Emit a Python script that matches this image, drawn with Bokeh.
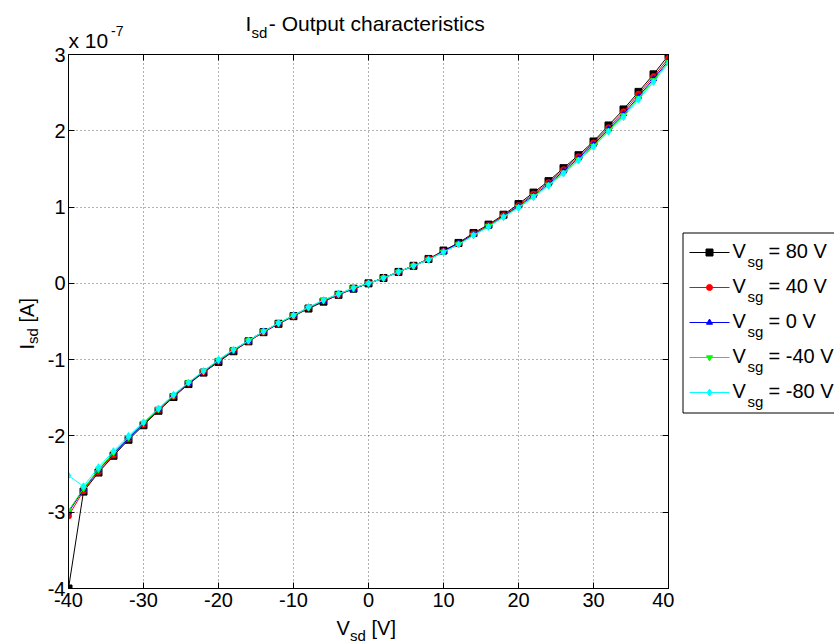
import numpy as np
from bokeh.plotting import figure
from bokeh.models import Range1d, LinearAxis, FixedTicker, ColumnDataSource
from bokeh.layouts import row, column
from bokeh.embed import file_html
from bokeh.resources import INLINE
from bokeh.core.properties import value

# ---------------- data (I_sd in units of 1e-7 A) ----------------
vsd = list(range(-40, 41, 2))
vsg_values = [80, 40, 0, -40, -80]

isd_vsg80 = [-4.00, -2.73, -2.48, -2.26, -2.05, -1.86, -1.67, -1.49, -1.32, -1.17,
             -1.03, -0.89, -0.76, -0.64, -0.53, -0.43, -0.33, -0.24, -0.15, -0.07,
             0.00, 0.07, 0.15, 0.23, 0.32, 0.43, 0.53, 0.66, 0.77, 0.90,
             1.04, 1.19, 1.34, 1.51, 1.68, 1.86, 2.07, 2.28, 2.51, 2.74, 2.99]
isd_vsg40 = [-3.05, -2.72, -2.47, -2.25, -2.04, -1.85, -1.66, -1.48, -1.31, -1.16,
             -1.02, -0.88, -0.76, -0.64, -0.53, -0.43, -0.32, -0.23, -0.15, -0.07,
             0.00, 0.07, 0.15, 0.23, 0.32, 0.42, 0.52, 0.65, 0.76, 0.89,
             1.02, 1.17, 1.32, 1.49, 1.66, 1.84, 2.04, 2.25, 2.48, 2.71, 2.95]
isd_vsg0 = [-3.00, -2.70, -2.45, -2.23, -2.03, -1.84, -1.65, -1.47, -1.31, -1.16,
            -1.01, -0.88, -0.75, -0.63, -0.53, -0.42, -0.32, -0.23, -0.14, -0.07,
            0.00, 0.07, 0.15, 0.23, 0.31, 0.42, 0.52, 0.64, 0.75, 0.88,
            1.01, 1.15, 1.30, 1.47, 1.64, 1.82, 2.02, 2.22, 2.45, 2.68, 2.92]
isd_vsgm40 = [-2.98, -2.69, -2.44, -2.22, -2.02, -1.83, -1.65, -1.47, -1.30, -1.15,
              -1.01, -0.87, -0.75, -0.63, -0.52, -0.42, -0.32, -0.22, -0.14, -0.06,
              0.00, 0.07, 0.15, 0.23, 0.31, 0.41, 0.51, 0.63, 0.75, 0.87,
              1.00, 1.14, 1.29, 1.45, 1.62, 1.80, 2.00, 2.20, 2.43, 2.66, 2.90]
isd_vsgm80 = [-2.52, -2.66, -2.41, -2.20, -2.00, -1.82, -1.64, -1.46, -1.30, -1.15,
              -1.00, -0.87, -0.75, -0.63, -0.52, -0.42, -0.31, -0.22, -0.14, -0.06,
              0.00, 0.07, 0.15, 0.23, 0.31, 0.41, 0.51, 0.63, 0.74, 0.87,
              0.99, 1.13, 1.28, 1.44, 1.61, 1.79, 1.99, 2.18, 2.41, 2.64, 2.89]

series = [isd_vsg80, isd_vsg40, isd_vsg0, isd_vsgm40, isd_vsgm80]
colors = ["#000000", "#ff0000", "#0000ff", "#00ff00", "#00ffff"]
markers = ["square", "circle", "triangle", "inverted_triangle", "diamond"]
msizes = [7, 6, 6, 6, 7]

x_ticks = [-40, -30, -20, -10, 0, 10, 20, 30, 40]
y_ticks = [-4, -3, -2, -1, 0, 1, 2, 3]

FONT = "Liberation Sans"

# layout geometry (pixels)
TOP_H = 52          # title strip
OVERLAP = 10        # plot row slides up over the (empty) bottom of the title strip
BOT_H = 29          # x-label strip
YLAB_W = 42         # y-label strip
LEG_W = 160         # legend strip
M_LEFT, M_RIGHT, M_TOP, M_BOT = 26, 6, 12, 27
FW, FH = 600, 534
TOTAL_W = YLAB_W + M_LEFT + FW + M_RIGHT + LEG_W
ROW_TOP = TOP_H - OVERLAP

# the text glyph anchors its "alphabetic" baseline about 0.35 em too high
BASE_OFF = 0.35


def helper(width, height, xr, yr, **borders):
    f = figure(width=width, height=height, x_range=xr, y_range=yr,
               x_axis_type=None, y_axis_type=None,
               output_backend="svg", toolbar_location=None, tools="", **borders)
    f.outline_line_color = None
    f.background_fill_color = None
    f.border_fill_color = None
    f.grid.visible = False
    return f


def txt(f, x, y, s, size, angle=0.0):
    if angle == 0.0:
        y = y - BASE_OFF * size
    else:
        x = x - BASE_OFF * size
    f.text([x], [y], text=[s], text_font=value(FONT), text_font_size=value("%gpx" % size),
           text_color="black", text_align="left", text_baseline="alphabetic", angle=angle)


# ---------------- main plot ----------------
p = figure(width=M_LEFT + FW + M_RIGHT, height=M_TOP + FH + M_BOT,
           min_border_left=M_LEFT, min_border_right=M_RIGHT,
           min_border_top=M_TOP, min_border_bottom=M_BOT,
           x_range=Range1d(-40, 40), y_range=Range1d(-4, 3),
           output_backend="svg", toolbar_location=None, tools="")
p.background_fill_color = "white"
p.border_fill_color = None
p.outline_line_color = "black"

xax = p.below[0]
yax = p.left[0]
top_axis = LinearAxis()
right_axis = LinearAxis()
p.add_layout(top_axis, "above")
p.add_layout(right_axis, "right")

xt = FixedTicker(ticks=x_ticks)
yt = FixedTicker(ticks=y_ticks)
xax.ticker = xt
top_axis.ticker = xt
yax.ticker = yt
right_axis.ticker = yt

for ax in [xax, yax, top_axis, right_axis]:
    ax.major_tick_in = 6
    ax.major_tick_out = 0
    ax.minor_tick_line_color = None
    ax.axis_line_color = "black"
    ax.major_tick_line_color = "black"
    ax.major_label_text_font = FONT
    ax.major_label_text_font_size = "20px"
    ax.major_label_text_color = "black"

xax.major_label_overrides = {t: str(t) for t in x_ticks}
yax.major_label_overrides = {t: str(t) for t in y_ticks}
xax.major_label_standoff = 4
yax.major_label_standoff = 3

for ax in [top_axis, right_axis]:
    ax.major_label_text_color = None
    ax.major_label_text_font_size = "1px"
    ax.major_label_standoff = 0

p.xgrid[0].ticker = xt
p.ygrid[0].ticker = yt
for g in [p.xgrid[0], p.ygrid[0]]:
    g.grid_line_color = "black"
    g.grid_line_alpha = 0.6
    g.grid_line_dash = "1 3"
    g.grid_line_width = 1

for ys, c, m, s in zip(series, colors, markers, msizes):
    src = ColumnDataSource(dict(x=vsd, y=ys))
    p.line("x", "y", source=src, line_color=c, line_width=1)
    p.scatter("x", "y", source=src, marker=m, size=s, fill_color=c, line_color=c)

# ---------------- title strip (page pixel coordinates) ----------------
x0 = YLAB_W + M_LEFT
tfig = helper(TOTAL_W, TOP_H, Range1d(x0, x0 + FW), Range1d(TOP_H, 0),
              min_border_left=x0, min_border_right=TOTAL_W - x0 - FW,
              min_border_top=0, min_border_bottom=0)
txt(tfig, 245, 30, "I", 21)
txt(tfig, 251, 37, "sd", 15)
txt(tfig, 268.3, 30, "- Output characteristics", 21)
txt(tfig, 68, 47, "x 10", 21)
txt(tfig, 110.5, 35, "-7", 14)

# ---------------- x-label strip ----------------
fy0 = ROW_TOP + M_TOP
yb0 = fy0 + FH + M_BOT
xfig = helper(TOTAL_W, BOT_H, Range1d(x0, x0 + FW), Range1d(yb0 + BOT_H, yb0),
              min_border_left=x0, min_border_right=TOTAL_W - x0 - FW,
              min_border_top=0, min_border_bottom=0)
txt(xfig, 336, 634, "V", 20)
txt(xfig, 349.5, 640.5, "sd", 15)
txt(xfig, 371, 634, "[V]", 20)

# ---------------- y-label strip ----------------
yfig = helper(YLAB_W, M_TOP + FH + M_BOT, Range1d(0, YLAB_W), Range1d(fy0 + FH, fy0),
              min_border_left=0, min_border_right=0,
              min_border_top=M_TOP, min_border_bottom=M_BOT)
txt(yfig, 33, 349, "I", 20, np.pi / 2)
txt(yfig, 37.5, 343.4, "sd", 15, np.pi / 2)
txt(yfig, 33, 322, "[A]", 20, np.pi / 2)

# ---------------- legend strip ----------------
lx0 = YLAB_W + M_LEFT + FW + M_RIGHT
leg = helper(LEG_W, M_TOP + FH + M_BOT, Range1d(lx0, lx0 + LEG_W), Range1d(fy0 + FH, fy0),
             min_border_left=0, min_border_right=0,
             min_border_top=M_TOP, min_border_bottom=M_BOT)
leg.quad(left=682.5, right=900, top=232.5, bottom=412.5,
         fill_color="white", line_color="black", line_width=1)

row_y = [252, 287, 322, 357, 392]
for ry, c, m, s, v in zip(row_y, colors, markers, msizes, vsg_values):
    leg.line([689, 729], [ry, ry], line_color=c, line_width=1)
    leg.scatter([709], [ry], marker=m, size=s, fill_color=c, line_color=c)
    txt(leg, 732, ry + 5, "V", 20)
    txt(leg, 747, ry + 14, "sg", 15)
    txt(leg, 768, ry + 5, "= %d V" % v, 20)

plot_row = row(yfig, p, leg, margin=(-OVERLAP, 0, 0, 0))
layout = column(tfig, plot_row, xfig)
open("out.html", "w").write(file_html(layout, INLINE))
